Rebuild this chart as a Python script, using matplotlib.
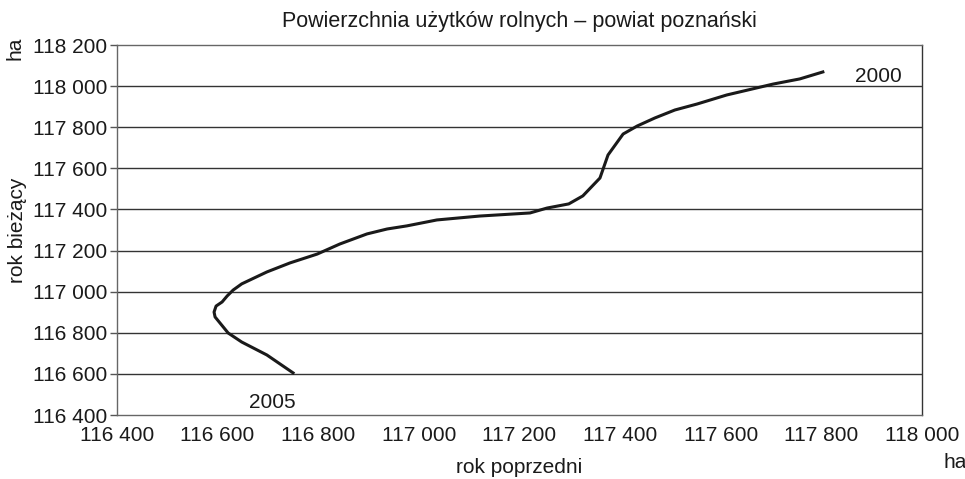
import matplotlib.pyplot as plt

plt.rcParams['font.family'] = ['Liberation Sans', 'DejaVu Sans']

# rok poprzedni (x) vs rok bieżący (y), ha, od 2000 do 2005
prev_year = [117803, 117757, 117704, 117678, 117612, 117553, 117509, 117469,
             117434, 117406, 117376, 117360, 117326, 117298, 117255, 117221,
             117121, 117036, 116976, 116937, 116897, 116843, 116798, 116744,
             116698, 116648, 116631, 116619, 116609, 116597, 116593, 116595,
             116621, 116648, 116698, 116750]
curr_year = [118069, 118035, 118010, 117995, 117957, 117913, 117884, 117845,
             117806, 117767, 117665, 117553, 117466, 117427, 117407, 117383,
             117368, 117349, 117320, 117305, 117281, 117232, 117183, 117140,
             117096, 117038, 117008, 116979, 116950, 116930, 116901, 116877,
             116799, 116755, 116692, 116605]

x_ticks = list(range(116400, 118001, 200))
y_ticks = list(range(116400, 118201, 200))


def fmt(v):
    return '{:,}'.format(v).replace(',', ' ')


fig = plt.figure(figsize=(9.65, 4.79), dpi=100)
ax = fig.add_axes([0.1212, 0.1336, 0.8342, 0.7724])

for yv in y_ticks[1:-1]:
    ax.axhline(yv, color='#333333', lw=1.0, zorder=1)

ax.plot(prev_year, curr_year, color='#1a1a1a', lw=2.2, zorder=3)

ax.set_xlim(116400, 118000)
ax.set_ylim(116400, 118200)
ax.set_xticks(x_ticks)
ax.set_xticklabels([fmt(v) for v in x_ticks])
ax.set_yticks(y_ticks)
ax.set_yticklabels([fmt(v) for v in y_ticks])
ax.tick_params(axis='x', length=0, pad=8, labelsize=15, colors='#1a1a1a')
ax.tick_params(axis='y', length=5, width=1, direction='out', pad=2,
               labelsize=15, colors='#1a1a1a')
ax.tick_params(axis='y', color='#555555')

for side in ['left', 'top', 'bottom']:
    ax.spines[side].set_color('#666666')
ax.spines['right'].set_color('#333333')
for s in ax.spines.values():
    s.set_linewidth(1.0)

ax.set_title('Powierzchnia użytków rolnych – powiat poznański', fontsize=15.5,
             color='#1a1a1a', pad=13)
ax.set_xlabel('rok poprzedni', fontsize=15, color='#1a1a1a', labelpad=9)
ax.set_ylabel('rok bieżący', fontsize=15, color='#1a1a1a', labelpad=4)

ax.annotate('2000', xy=(prev_year[0], curr_year[0]), xytext=(40, -3),
            textcoords='offset points', fontsize=15, color='#1a1a1a',
            va='center', ha='center')
ax.annotate('2005', xy=(prev_year[-1], curr_year[-1]), xytext=(-15, -21),
            textcoords='offset points', fontsize=15, color='#1a1a1a',
            va='center', ha='center')

fig.text(15 / 965, 1 - 48 / 479, 'ha', rotation=90, fontsize=15,
         color='#1a1a1a', ha='center', va='center')
fig.text(955 / 965, 1 - 462 / 479, 'ha', fontsize=15,
         color='#1a1a1a', ha='center', va='center')

fig.savefig('out.png', dpi=100)
